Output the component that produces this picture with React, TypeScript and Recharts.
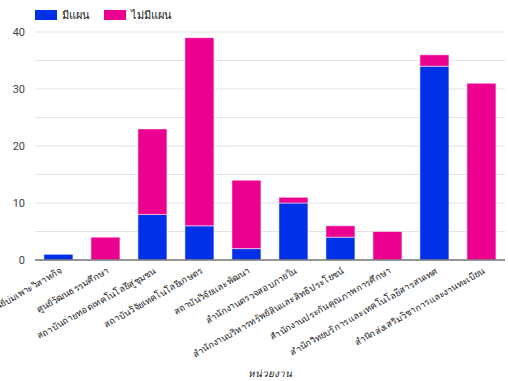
import { Bar, BarChart, CartesianGrid, Legend, XAxis, YAxis } from "recharts";

const units = [
  "ศูนย์บ่มเพาะวิสาหกิจ",
  "ศูนย์วัฒนธรรมศึกษา",
  "สถาบันถ่ายทอดเทคโนโลยีสู่ชุมชน",
  "สถาบันวิจัยเทคโนโลยีเกษตร",
  "สถาบันวิจัยและพัฒนา",
  "สำนักงานตรวจสอบภายใน",
  "สำนักงานบริหารทรัพย์สินและสิทธิประโยชน์",
  "สำนักงานประกันคุณภาพการศึกษา",
  "สำนักวิทยบริการและเทคโนโลยีสารสนเทศ",
  "สำนักส่งเสริมวิชาการและงานทะเบียน"
];
const withPlan = [1, 0, 8, 6, 2, 10, 4, 0, 34, 0];
const withoutPlan = [0, 4, 15, 33, 12, 1, 2, 5, 2, 31];
const yTicks = [0, 5, 10, 15, 20, 25, 30, 35, 40];

const BLUE = "#0030e8";
const PINK = "#ec0090";
const FONT = "Roboto, 'Noto Sans', sans-serif";

const rows = units.map((unit, i) => ({
  unit,
  plan: withPlan[i],
  noPlan: withoutPlan[i]
}));

// rotated category labels, text end hangs just below the tick
const CategoryTick = ({ x, y, payload }: any) => (
  <g transform={`translate(${x + 4},${y + 13}) rotate(-29.5)`}>
    <text fill="#222" fontFamily={FONT} fontSize={9.2} textAnchor="end" x={0} y={0}>
      {payload.value}
    </text>
  </g>
);

const LegendBox = () => (
  <div style={{ display: "flex", fontFamily: FONT, fontSize: 11, color: "#222" }}>
    {[
      { name: "มีแผน", color: BLUE },
      { name: "ไม่มีแผน", color: PINK }
    ].map((item) => (
      <div key={item.name} style={{ alignItems: "center", display: "flex", marginRight: 14 }}>
        <span style={{ background: item.color, display: "inline-block", height: 10, marginRight: 5, width: 22 }} />
        <span>{item.name}</span>
      </div>
    ))}
  </div>
);

export default function App() {
  return (
    <div style={{ left: 0, position: "absolute", top: 0 }}>
      <BarChart
        barCategoryGap="19%"
        data={rows}
        height={381}
        margin={{ bottom: 0, left: 0, right: 3, top: 32 }}
        width={508}
      >
        <CartesianGrid horizontal stroke="#e3e3e3" vertical={false} />
        <XAxis
          axisLine={{ stroke: "#777", strokeWidth: 1.5 }}
          dataKey="unit"
          height={121}
          interval={0}
          label={{ fill: "#222", fontFamily: FONT, fontSize: 10, fontStyle: "italic", offset: 4, position: "insideBottom", value: "หน่วยงาน" }}
          tick={<CategoryTick />}
          tickLine={false}
          tickMargin={0}
          tickSize={0}
        />
        <YAxis
          axisLine={false}
          domain={[0, 40]}
          tick={{ fill: "#444", fontFamily: FONT, fontSize: 11 }}
          tickFormatter={(v: number) => (v % 10 === 0 ? String(v) : "")}
          tickLine={false}
          tickMargin={10}
          tickSize={0}
          ticks={yTicks}
          width={35}
        />
        <Legend
          align="center"
          content={<LegendBox />}
          layout="horizontal"
          verticalAlign="middle"
          wrapperStyle={{ left: 35, top: 6, width: "auto" }}
        />
        <Bar dataKey="plan" fill={BLUE} isAnimationActive={false} name="มีแผน" stackId="a" stroke="#ffffff" strokeOpacity={0.5} />
        <Bar dataKey="noPlan" fill={PINK} isAnimationActive={false} name="ไม่มีแผน" stackId="a" stroke="#ffffff" strokeOpacity={0.5} />
      </BarChart>
    </div>
  );
}
